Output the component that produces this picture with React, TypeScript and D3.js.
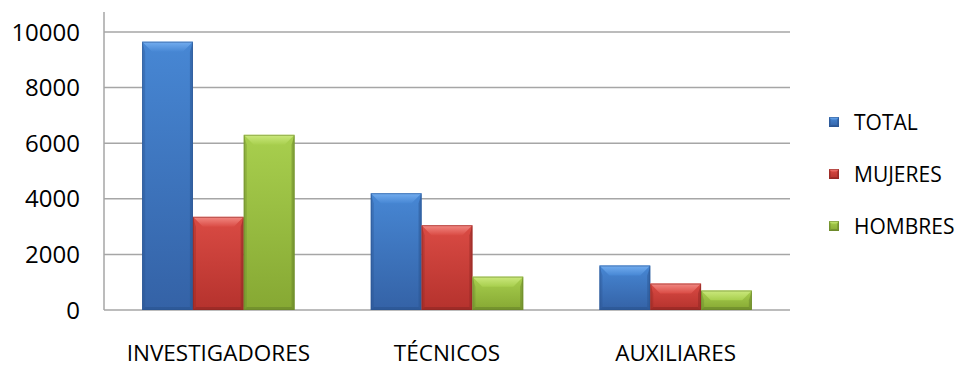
import React from "react";
import * as d3 from "d3";

// Personnel by category, split by sex
const categories = ["INVESTIGADORES", "TÉCNICOS", "AUXILIARES"];
const seriesNames = ["TOTAL", "MUJERES", "HOMBRES"];
const totalValues = [9650, 4200, 1600];
const mujeresValues = [3350, 3050, 950];
const hombresValues = [6300, 1200, 700];
const yTicks = [0, 2000, 4000, 6000, 8000, 10000];

const seriesValues = [totalValues, mujeresValues, hombresValues];

// Colour set per series: face top, face bottom, top bevel, edge shade
const palette = [
  { top: "#4787d4", bottom: "#3462a6", bevel: "#74aef0", edge: "#2a5390" },
  { top: "#da4b44", bottom: "#b5322d", bevel: "#f28a84", edge: "#8e2723" },
  { top: "#a8cf4e", bottom: "#86a833", bevel: "#cce97e", edge: "#67842a" },
];

const W = 965;
const H = 367;
const plot = { left: 104, right: 790, top: 32, bottom: 310 };
const font = "'Open Sans', 'Noto Sans', sans-serif";

function BevelBar({ x, y, w, h, c, id, bevel = 10 }: { x: number; y: number; w: number; h: number; c: typeof palette[0]; id: string; bevel?: number }) {
  const b = Math.min(bevel, h / 2, w / 2);
  const s = Math.min(3, w / 5);
  const bb = Math.min(3, h / 5);
  return (
    <g>
      <rect x={x} y={y} width={w} height={h} fill={`url(#face-${id})`} />
      {/* left and right edge strips */}
      <polygon points={`${x},${y} ${x + s},${y + b} ${x + s},${y + h - bb} ${x},${y + h}`} fill={c.edge} opacity={0.35} />
      <polygon points={`${x + w},${y} ${x + w - s},${y + b} ${x + w - s},${y + h - bb} ${x + w},${y + h}`} fill={c.edge} opacity={0.5} />
      {/* bottom edge */}
      <polygon points={`${x},${y + h} ${x + s},${y + h - bb} ${x + w - s},${y + h - bb} ${x + w},${y + h}`} fill={c.edge} opacity={0.6} />
      {/* top bevel */}
      <polygon points={`${x},${y} ${x + w},${y} ${x + w - b},${y + b} ${x + b},${y + b}`} fill={`url(#bevel-${id})`} />
      <rect x={x + 0.5} y={y + 0.5} width={w - 1} height={h - 1} fill="none" stroke={c.edge} strokeOpacity={0.55} strokeWidth={1} />
    </g>
  );
}

export default function App() {
  const x0 = d3.scaleBand<string>().domain(categories).range([plot.left, plot.right]).padding(0);
  const barW = x0.bandwidth() / 4.5;
  const groupOffset = (x0.bandwidth() - 3 * barW) / 2;
  const x1 = d3.scaleBand<string>().domain(seriesNames).range([0, 3 * barW]).padding(0);
  const y = d3.scaleLinear().domain([0, 10000]).range([plot.bottom, plot.top]);

  return (
    <svg width={W} height={H} style={{ position: "absolute", left: 0, top: 0, background: "#fff" }}>
      <defs>
        {palette.map((c, i) => (
          <React.Fragment key={i}>
            <linearGradient id={`face-${i}`} x1="0" y1="0" x2="0" y2="1">
              <stop offset="0" stopColor={c.top} />
              <stop offset="1" stopColor={c.bottom} />
            </linearGradient>
            <linearGradient id={`bevel-${i}`} x1="0" y1="0" x2="0" y2="1">
              <stop offset="0" stopColor={c.bevel} />
              <stop offset="1" stopColor={c.top} />
            </linearGradient>
          </React.Fragment>
        ))}
      </defs>

      {/* gridlines */}
      {yTicks.map((t) => (
        <line key={t} x1={plot.left} x2={plot.right} y1={y(t)} y2={y(t)} stroke="#a6a6a6" strokeWidth={1.5} />
      ))}
      {/* value axis */}
      <line x1={plot.left} x2={plot.left} y1={12} y2={plot.bottom} stroke="#a6a6a6" strokeWidth={1.5} />

      {yTicks.map((t) => (
        <text key={t} x={80} y={y(t)} dy="0.36em" textAnchor="end" fontFamily={font} fontSize={24} fill="#000">
          {t}
        </text>
      ))}

      {categories.map((cat, ci) => (
        <g key={cat}>
          {seriesNames.map((s, si) => {
            const v = seriesValues[si][ci];
            const bx = (x0(cat) as number) + groupOffset + (x1(s) as number);
            const by = y(v);
            return <BevelBar key={s} x={bx} y={by} w={barW} h={y(0) - by} c={palette[si]} id={String(si)} />;
          })}
          <text x={(x0(cat) as number) + x0.bandwidth() / 2} y={361} textAnchor="middle" fontFamily={font} fontSize={22.5} fill="#000">
            {cat}
          </text>
        </g>
      ))}

      {/* legend */}
      {seriesNames.map((s, i) => {
        const ly = 122 + i * 52;
        return (
          <g key={s}>
            <BevelBar x={829} y={ly - 5} w={10} h={10} c={palette[i]} id={String(i)} bevel={3} />
            <text x={854} y={ly} dy="0.36em" fontFamily={font} fontSize={21} fill="#000">
              {s}
            </text>
          </g>
        );
      })}
    </svg>
  );
}
